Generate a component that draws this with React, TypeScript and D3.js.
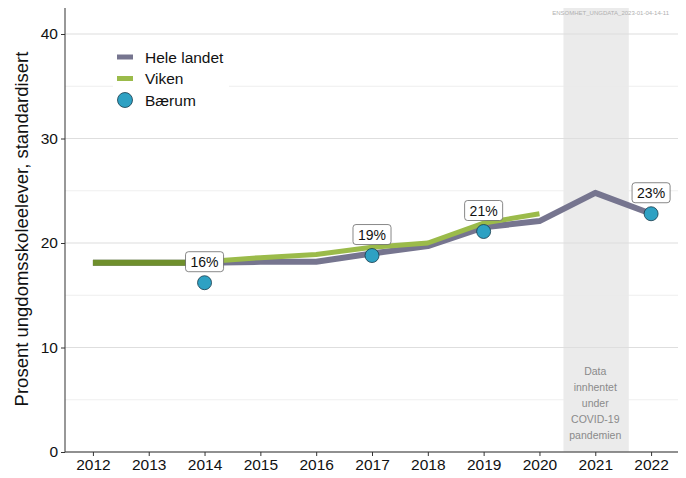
import { useEffect, useRef } from 'react';
import * as d3 from 'd3';

const WIDTH = 686;
const HEIGHT = 478;

const years = [2012, 2013, 2014, 2015, 2016, 2017, 2018, 2019, 2020, 2021, 2022];
const heleLandet = [18.1, 18.1, 18.1, 18.2, 18.2, 19.0, 19.7, 21.5, 22.1, 24.8, 22.8];
const vikenYears = [2014, 2015, 2016, 2017, 2018, 2019, 2020];
const viken = [18.2, 18.6, 18.9, 19.6, 20.0, 21.9, 22.8];
const earlyYears = [2012, 2013, 2014];
const early = [18.1, 18.1, 18.1];
const baerumYears = [2014, 2017, 2019, 2022];
const baerum = [16.2, 18.8, 21.1, 22.8];
const baerumLabels = ['16%', '19%', '21%', '23%'];
const yTicks = [0, 10, 20, 30, 40];
const yMinor = [5, 15, 25, 35];
const covidSpan = [2020.43, 2021.6];
const covidText = ['Data', 'innhentet', 'under', 'COVID-19', 'pandemien'];

const FONT = 'Liberation Sans, Arial, sans-serif';

export default function App() {
  const ref = useRef<SVGSVGElement>(null);

  useEffect(() => {
    const svg = d3.select(ref.current);
    svg.selectAll('*').remove();
    const left = 65, right = 679, top = 6, bottom = 452;
    const x = d3.scaleLinear().domain([2011.5, 2022.5]).range([left, right]);
    const y = d3.scaleLinear().domain([0, 42.68]).range([bottom, top]);

    svg.append('rect').attr('width', WIDTH).attr('height', HEIGHT).attr('fill', '#fff');

    // covid band
    svg.append('rect')
      .attr('x', x(covidSpan[0])).attr('y', top)
      .attr('width', x(covidSpan[1]) - x(covidSpan[0])).attr('height', bottom - top)
      .attr('fill', '#ebebeb');

    // grid
    svg.selectAll('.minor').data(yMinor).join('line')
      .attr('x1', left).attr('x2', right).attr('y1', (d) => y(d)).attr('y2', (d) => y(d))
      .attr('stroke', '#ebebeb').attr('stroke-width', 0.8);
    svg.selectAll('.major').data(yTicks).join('line')
      .attr('x1', left).attr('x2', right).attr('y1', (d) => y(d)).attr('y2', (d) => y(d))
      .attr('stroke', '#dedede').attr('stroke-width', 1.1);

    svg.selectAll('.ctext').data(covidText).join('text')
      .attr('x', x(2021)).attr('y', (_, i) => 375 + i * 16)
      .attr('text-anchor', 'middle').attr('font-family', FONT).attr('font-size', 10.5)
      .attr('fill', '#8a8a8a').text((d) => d);

    svg.append('text').attr('x', 669).attr('y', 15).attr('text-anchor', 'end')
      .attr('font-family', FONT).attr('font-size', 6).attr('fill', '#b0b0b0')
      .text('ENSOMHET_UNGDATA_2023-01-04-14-11');

    const line = d3.line<[number, number]>().x((d) => x(d[0])).y((d) => y(d[1]));

    svg.append('path').attr('d', line(years.map((yr, i) => [yr, heleLandet[i]])))
      .attr('fill', 'none').attr('stroke', '#76758f').attr('stroke-width', 6).attr('stroke-linejoin', 'round');
    svg.append('path').attr('d', line(vikenYears.map((yr, i) => [yr, viken[i]])))
      .attr('fill', 'none').attr('stroke', '#9bbb4a').attr('stroke-width', 5).attr('stroke-linejoin', 'round');
    svg.append('path').attr('d', line(earlyYears.map((yr, i) => [yr, early[i]])))
      .attr('fill', 'none').attr('stroke', '#6f8f2c').attr('stroke-width', 6);

    svg.selectAll('.pt').data(baerum).join('circle')
      .attr('cx', (_, i) => x(baerumYears[i])).attr('cy', (d) => y(d)).attr('r', 7)
      .attr('fill', '#2ea1c3').attr('stroke', '#173a4a').attr('stroke-width', 0.8);

    baerum.forEach((v, i) => {
      const cx = x(baerumYears[i]);
      const cy = y(v) - 21;
      const g = svg.append('g');
      const t = g.append('text').attr('x', cx).attr('y', cy + 5).attr('text-anchor', 'middle')
        .attr('font-family', FONT).attr('font-size', 14).attr('fill', '#111').text(baerumLabels[i]);
      const w = (t.node() as SVGTextElement).getComputedTextLength() + 10;
      g.insert('rect', 'text').attr('x', cx - w / 2).attr('y', cy - 10).attr('width', w).attr('height', 20)
        .attr('rx', 3).attr('fill', '#fff').attr('stroke', '#555').attr('stroke-width', 0.7);
    });

    // panel border
    svg.append('rect').attr('x', left).attr('y', top).attr('width', right - left).attr('height', bottom - top)
      .attr('fill', 'none').attr('stroke', '#333').attr('stroke-width', 1);

    // axes
    const yAxis = svg.append('g').attr('transform', `translate(${left},0)`)
      .call(d3.axisLeft(y).tickValues(yTicks).tickSize(4).tickPadding(3));
    yAxis.select('.domain').remove();
    yAxis.selectAll('line').attr('stroke', '#333');
    yAxis.selectAll('text').attr('font-family', FONT).attr('font-size', 15.5).attr('fill', '#111');

    const xAxis = svg.append('g').attr('transform', `translate(0,${bottom})`)
      .call(d3.axisBottom(x).tickValues(years).tickFormat(d3.format('d')).tickSize(4).tickPadding(3));
    xAxis.select('.domain').remove();
    xAxis.selectAll('line').attr('stroke', '#333');
    xAxis.selectAll('text').attr('font-family', FONT).attr('font-size', 15.5).attr('fill', '#111');

    svg.append('text').attr('transform', `translate(28,${(top + bottom) / 2}) rotate(-90)`)
      .attr('text-anchor', 'middle').attr('font-family', FONT).attr('font-size', 18.5).attr('fill', '#111')
      .text('Prosent ungdomsskoleelever, standardisert');

    // legend
    const lg = svg.append('g');
    lg.append('rect').attr('x', 113).attr('y', 42).attr('width', 116).attr('height', 71).attr('fill', '#fff');
    const items = [
      { label: 'Hele landet', color: '#76758f', type: 'line' },
      { label: 'Viken', color: '#9bbb4a', type: 'line' },
      { label: 'Bærum', color: '#2ea1c3', type: 'point' },
    ];
    items.forEach((it, i) => {
      const cy = 57 + i * 21.5;
      if (it.type === 'line') {
        lg.append('line').attr('x1', 117).attr('x2', 133).attr('y1', cy).attr('y2', cy)
          .attr('stroke', it.color).attr('stroke-width', 5);
      } else {
        lg.append('circle').attr('cx', 125).attr('cy', cy).attr('r', 7.5)
          .attr('fill', it.color).attr('stroke', '#173a4a').attr('stroke-width', 0.8);
      }
      lg.append('text').attr('x', 145).attr('y', cy + 5.5).attr('font-family', FONT).attr('font-size', 15.5)
        .attr('fill', '#111').text(it.label);
    });
  }, []);

  return <svg ref={ref} width={WIDTH} height={HEIGHT} style={{ display: 'block', margin: -8 }} />;
}
